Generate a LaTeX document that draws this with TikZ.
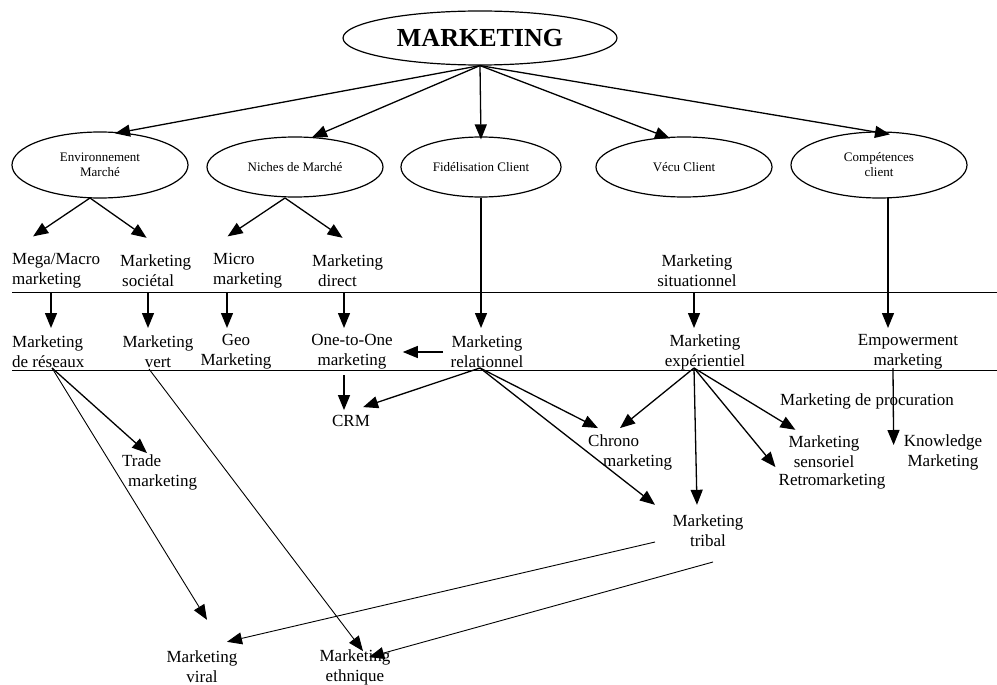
\documentclass[tikz,border=0pt]{standalone}
\usepackage{fontspec}
\setmainfont{Liberation Serif}
\usetikzlibrary{shapes.geometric,arrows.meta}
\begin{document}
\begin{tikzpicture}[x=1pt,y=-1pt,
  arr/.style={line width=1.3pt,-{Triangle[length=15pt,width=12pt]}},
  thinarr/.style={line width=0.9pt,-{Triangle[length=15pt,width=12pt]}},
  oval/.style={ellipse,draw,line width=1.2pt,inner sep=0pt,align=center,font=\fontsize{13}{15}\selectfont},
  lbl/.style={inner sep=0pt,font=\fontsize{17}{20}\selectfont},
  sep/.style={line width=0.9pt}
]
\useasboundingbox (0,0) rectangle (997,685);

% top
\node[oval,minimum width=274pt,minimum height=54pt,font=\fontsize{26}{30}\selectfont\bfseries] (main) at (480,38) {MARKETING};

% ellipses
\node[oval,minimum width=176pt,minimum height=66pt] (env) at (100,165) {Environnement\\Marché};
\node[oval,minimum width=176pt,minimum height=60pt] (niche) at (295,167) {Niches de Marché};
\node[oval,minimum width=160pt,minimum height=60pt] (fid) at (481,167) {Fidélisation Client};
\node[oval,minimum width=176pt,minimum height=60pt] (vecu) at (684,167) {Vécu Client};
\node[oval,minimum width=176pt,minimum height=66pt] (comp) at (879,165) {Compétences\\client};

\draw[arr] (main.south) -- ([xshift=15pt,yshift=-2pt]env.north);
\draw[arr] (main.south) -- ([xshift=17pt,yshift=-1pt]niche.north);
\draw[arr] (main.south) -- ([yshift=-3pt]fid.north);
\draw[arr] (main.south) -- ([xshift=-14pt,yshift=-2pt]vecu.north);
\draw[arr] (main.south) -- ([xshift=11pt,yshift=-3pt]comp.north);

% row 3
\node[lbl,align=left,anchor=west] (mega) at (12,271) {Mega/Macro\\marketing};
\node[lbl,align=left,anchor=west] (soc) at (120,271) {Marketing\\\hspace*{2pt}sociétal};
\node[lbl,align=left,anchor=west] (micro) at (213,271) {Micro\\marketing};
\node[lbl,align=left,anchor=west] (direct) at (312,271) {Marketing\\\hspace*{6pt}direct};
\node[lbl,align=center] (situ) at (697,271) {Marketing\\situationnel};

\coordinate (es) at (90,198);
\coordinate (ns) at (285,198);
\draw[arr] (es) -- ([xshift=-23pt,yshift=17pt]mega.north);
\draw[arr] (es) -- ([xshift=-9pt,yshift=17pt]soc.north);
\draw[arr] (ns) -- ([xshift=-20pt,yshift=17pt]micro.north);
\draw[arr] (ns) -- ([xshift=-5pt,yshift=17pt]direct.north);

% separator lines
\draw[sep] (12,292) -- (997,292);
\draw[sep] (12,370) -- (997,370);

% row 4
\node[lbl,align=left,anchor=west] (reseaux) at (12,352) {Marketing\\de réseaux};
\node[lbl,align=center] (vert) at (158,352) {Marketing\\vert};
\node[lbl,align=center] (geo) at (236,352) {Geo\\Marketing};
\node[lbl,align=center] (oto) at (352,352) {One-to-One\\marketing};
\node[lbl,align=center] (rel) at (487,352) {Marketing\\relationnel};
\node[lbl,align=center] (exp) at (705,352) {Marketing\\expérientiel};
\node[lbl,align=center] (emp) at (908,352) {Empowerment\\marketing};

\coordinate (a1) at (51,292);   \coordinate (b1) at (51,328);
\coordinate (a2) at (148,292);  \coordinate (b2) at (148,328);
\coordinate (a3) at (227,292);  \coordinate (b3) at (227,328);
\coordinate (a4) at (344,292);  \coordinate (b4) at (344,328);
\coordinate (b5) at (481,328);
\coordinate (a6) at (694,292);  \coordinate (b6) at (694,328);
\coordinate (a7) at (888,198);  \coordinate (b7) at (888,328);
\draw[arr] (a1) -- (b1);
\draw[arr] (a2) -- (b2);
\draw[arr] (a3) -- (b3);
\draw[arr] (a4) -- (b4);
\draw[arr] (fid.south) -- (b5);
\draw[arr] (a6) -- (b6);
\draw[arr] (a7) -- (b7);

% relationnel -> one-to-one
\coordinate (rl) at (443,352);
\draw[arr] (rl) -- ([xshift=10pt]oto.east);

% below
\node[lbl] (crm) at (351,421) {CRM};
\node[lbl] (proc) at (867,401) {Marketing de procuration};
\node[lbl,align=left,anchor=west] (chrono) at (588,452) {Chrono\\\hspace*{15pt}marketing};
\node[lbl,align=center] (sens) at (824,452) {Marketing\\sensoriel};
\node[lbl] (retro) at (832,481) {Retromarketing};
\node[lbl,align=center] (know) at (943,452) {Knowledge\\Marketing};
\node[lbl,align=center] (tribal) at (708,531) {Marketing\\tribal};
\node[lbl,align=left,anchor=west] (trade) at (122,472) {Trade\\\hspace*{6pt}marketing};
\node[lbl,align=center] (viral) at (202,667) {Marketing\\viral};
\node[lbl,align=center] (ethn) at (355,667) {Marketing\\ethnique};

\coordinate (ob) at (344,375);
\coordinate (rb) at (480,368);
\coordinate (eb) at (694,368);
\coordinate (kb) at (893,368);
\coordinate (rsb) at (52,368);
\coordinate (vb) at (149,369);
\coordinate (tr1) at (655,542);
\coordinate (tr2) at (713,562);

\draw[arr] (ob) -- ([xshift=-7pt,yshift=5pt]crm.north);
\draw[arr] (rb) -- ([xshift=-7pt,yshift=8pt]crm.north east);
\draw[arr] (rb) -- ([xshift=10pt,yshift=6pt]chrono.north west);
\draw[arr] (rb) -- ([xshift=-53pt,yshift=10pt]tribal.north);
\draw[arr] (eb) -- ([xshift=32pt,yshift=6pt]chrono.north west);
\draw[arr] (eb) -- ([xshift=-11pt,yshift=10pt]tribal.north);
\draw[arr] (eb) -- ([xshift=-3pt,yshift=6pt]retro.north west);
\draw[arr] (eb) -- ([xshift=7pt,yshift=6pt]sens.north west);
\draw[arr] (kb) -- ([xshift=-10pt,yshift=7pt]know.west);

\draw[arr] (rsb) -- ([xshift=25pt,yshift=1pt]trade.north west);
\draw[thinarr] (rsb) -- ([xshift=5pt,yshift=31pt]viral.north);
\draw[thinarr] (vb) -- ([xshift=8pt,yshift=-2pt]ethn.north);
\draw[thinarr] (tr1) -- ([xshift=25pt,yshift=9pt]viral.north);
\draw[thinarr] (tr2) -- ([xshift=14pt,yshift=-8pt]ethn.north);
\end{tikzpicture}
\end{document}
